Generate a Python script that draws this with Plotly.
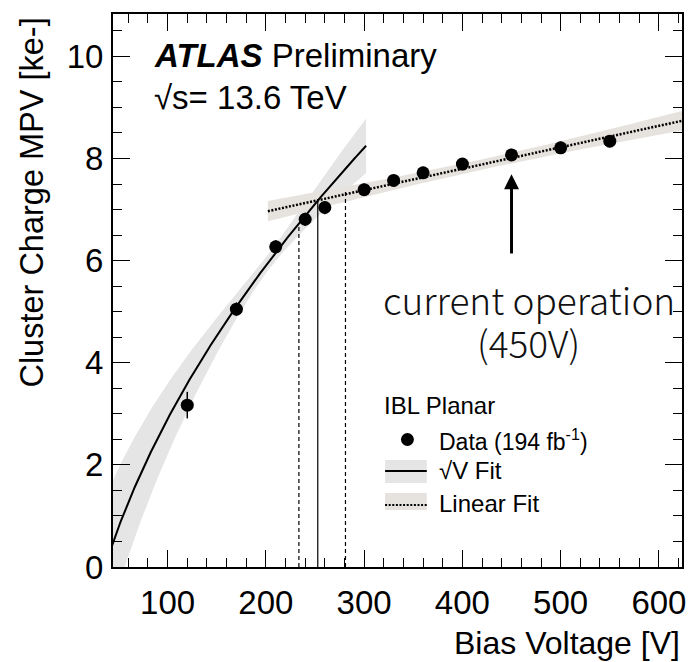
import numpy as np
import plotly.graph_objects as go

# Measured cluster-charge MPV vs bias voltage (IBL planar sensors)
bias_voltage = [120, 170, 210, 240, 260, 300, 330, 360, 400, 450, 500, 550]
charge_mpv = [3.17, 5.05, 6.27, 6.81, 7.04, 7.39, 7.57, 7.72, 7.89, 8.07, 8.21, 8.34]
charge_err = [0.26, 0.13, 0.13, 0.13, 0.13, 0.12, 0.12, 0.12, 0.12, 0.12, 0.12, 0.12]

# sqrt(V) fit: q = a*sqrt(V) + b, band from parameter uncertainties
sqrt_a, sqrt_b = 0.725, -4.35
sqrt_sig_a2, sqrt_u0, sqrt_sig0 = 0.026, 14.2, 0.15
sqrt_range = (40, 302)

# linear fit: q = c + m*V
lin_c, lin_m = 6.12, 0.0042
lin_sig_m, lin_v0, lin_sig0 = 0.00079, 420, 0.10
lin_range = (202, 640)

# depletion voltage estimate (central, lower, upper)
v_dep, v_dep_lo, v_dep_hi = 252.8, 233.6, 281.0

# operating point arrow (voltage, tail, tip)
op_voltage, op_tail, op_tip = 450, 6.14, 7.69

x_range = [44.4, 623.5]
y_range = [0, 10.83]
x_ticks = [100, 200, 300, 400, 500, 600]
y_ticks = [0, 2, 4, 6, 8, 10]

SQRT_BAND = "rgb(229,229,229)"
LIN_BAND = "rgb(230,226,222)"
FONT = "Liberation Sans, Arial, sans-serif"
NOTE_FONT = "Noto Sans CJK JP"

# plot area in pixels
W, H = 696, 662
L, R, T, B = 113, 686, 14, 567


def px(xp):
    return (xp - L) / (R - L)


def py(yp):
    return (B - yp) / (B - T)


def sqrt_fit(v):
    return sqrt_a * np.sqrt(v) + sqrt_b


def sqrt_err(v):
    return np.sqrt(sqrt_sig_a2 * (np.sqrt(v) - sqrt_u0) ** 2 + sqrt_sig0 ** 2)


def lin_fit(v):
    return lin_c + lin_m * v


def lin_err(v):
    return np.sqrt((lin_sig_m * (v - lin_v0)) ** 2 + lin_sig0 ** 2)


fig = go.Figure()

vs = np.linspace(*sqrt_range, 300)
vl = np.linspace(*lin_range, 300)

# bands
for v, f, e, col in [(vs, sqrt_fit, sqrt_err, SQRT_BAND), (vl, lin_fit, lin_err, LIN_BAND)]:
    fig.add_trace(go.Scatter(
        x=np.concatenate([v, v[::-1]]),
        y=np.concatenate([f(v) + e(v), (f(v) - e(v))[::-1]]),
        fill="toself", fillcolor=col, line=dict(width=0), mode="lines",
        hoverinfo="skip", showlegend=False))

# fit lines
fig.add_trace(go.Scatter(x=vs, y=sqrt_fit(vs), mode="lines",
                         line=dict(color="black", width=2), showlegend=False))
fig.add_trace(go.Scatter(x=vl, y=lin_fit(vl), mode="lines",
                         line=dict(color="black", width=2.5, dash="2px,1.6px"), showlegend=False))

# depletion voltage markers
fig.add_trace(go.Scatter(x=[v_dep, v_dep], y=[0, sqrt_fit(v_dep)], mode="lines",
                         line=dict(color="black", width=1.2), showlegend=False))
fig.add_trace(go.Scatter(x=[v_dep_lo, v_dep_lo], y=[0, sqrt_fit(v_dep_lo)], mode="lines",
                         line=dict(color="black", width=1.2, dash="4px,3px"), showlegend=False))
fig.add_trace(go.Scatter(x=[v_dep_hi, v_dep_hi], y=[0, lin_fit(v_dep_hi) + 0.1], mode="lines",
                         line=dict(color="black", width=1.2, dash="4px,3px"), showlegend=False))

# data points
fig.add_trace(go.Scatter(
    x=bias_voltage, y=charge_mpv, mode="markers",
    marker=dict(color="black", size=13),
    error_y=dict(type="data", array=charge_err, color="black", thickness=1.5, width=0),
    showlegend=False))

annotations = [
    dict(x=px(152), y=py(56), xref="paper", yref="paper", xanchor="left", yanchor="middle",
         text="<b><i>ATLAS</i></b> Preliminary", showarrow=False,
         font=dict(family=FONT, size=33, color="black")),
    dict(x=px(152), y=py(97), xref="paper", yref="paper", xanchor="left", yanchor="middle",
         text="√s= 13.6 TeV", showarrow=False,
         font=dict(family=FONT, size=33, color="black")),
    # axis titles
    dict(x=1, y=py(643), xref="paper", yref="paper", xanchor="right", yanchor="middle",
         text="Bias Voltage [V]", showarrow=False,
         font=dict(family=FONT, size=32, color="black")),
    dict(x=px(31), y=py(16), xref="paper", yref="paper", xanchor="center", yanchor="top",
         text="Cluster Charge MPV [ke-]", textangle=-90, showarrow=False,
         font=dict(family=FONT, size=32.5, color="black")),
    # operating point label
    dict(x=px(532), y=py(299), xref="paper", yref="paper", xanchor="center", yanchor="middle",
         text="current operation", showarrow=False,
         font=dict(family=NOTE_FONT, size=37, color="#111", weight=300)),
    dict(x=px(531), y=py(342), xref="paper", yref="paper", xanchor="center", yanchor="middle",
         text="(450V)", showarrow=False,
         font=dict(family=NOTE_FONT, size=37, color="#111", weight=300)),
    # legend
    dict(x=px(384), y=py(405), xref="paper", yref="paper", xanchor="left", yanchor="middle",
         text="IBL Planar", showarrow=False, font=dict(family=FONT, size=24, color="black")),
    dict(x=px(439), y=py(440), xref="paper", yref="paper", xanchor="left", yanchor="middle",
         text="Data (194 fb<sup>-1</sup>)", showarrow=False, font=dict(family=FONT, size=23, color="black")),
    dict(x=px(439), y=py(470), xref="paper", yref="paper", xanchor="left", yanchor="middle",
         text="√V Fit", showarrow=False, font=dict(family=FONT, size=24, color="black")),
    dict(x=px(439), y=py(503), xref="paper", yref="paper", xanchor="left", yanchor="middle",
         text="Linear Fit", showarrow=False, font=dict(family=FONT, size=24, color="black")),
]

# arrow head size in axis units (about 15 px wide and long)
head_half_w = 7.6
head_len = 0.29

shapes = [
    # operating point arrow
    dict(type="line", xref="x", yref="y", x0=op_voltage, x1=op_voltage,
         y0=op_tail, y1=op_tip - head_len + 0.02, line=dict(color="black", width=3)),
    dict(type="path", xref="x", yref="y",
         path=f"M {op_voltage - head_half_w},{op_tip - head_len} "
              f"L {op_voltage + head_half_w},{op_tip - head_len} L {op_voltage},{op_tip} Z",
         fillcolor="black", line=dict(width=0)),
    # legend samples
    dict(type="rect", xref="paper", yref="paper", x0=px(387), x1=px(429), y0=py(483), y1=py(460),
         fillcolor=SQRT_BAND, line=dict(width=0), layer="above"),
    dict(type="line", xref="paper", yref="paper", x0=px(387), x1=px(429), y0=py(471), y1=py(471),
         line=dict(color="black", width=2), layer="above"),
    dict(type="rect", xref="paper", yref="paper", x0=px(387), x1=px(429), y0=py(510), y1=py(493),
         fillcolor=LIN_BAND, line=dict(width=0), layer="above"),
    dict(type="line", xref="paper", yref="paper", x0=px(387), x1=px(429), y0=py(505), y1=py(505),
         line=dict(color="black", width=2, dash="2px,1.6px"), layer="above"),
    dict(type="circle", xref="paper", yref="paper", x0=px(403), x1=px(416), y0=py(446), y1=py(433),
         fillcolor="black", line=dict(width=0), layer="above"),
]

axis_common = dict(
    showgrid=False, zeroline=False, showline=True, linecolor="black", linewidth=2,
    mirror="ticks", ticks="inside", ticklen=17, tickwidth=1.3, tickcolor="black",
    tickfont=dict(family=FONT, size=33, color="black"),
)

fig.update_layout(
    width=W, height=H,
    margin=dict(l=L, r=W - R, t=T, b=H - B),
    plot_bgcolor="white", paper_bgcolor="white",
    showlegend=False,
    xaxis=dict(range=x_range, tickvals=x_ticks,
               minor=dict(dtick=20, tick0=0, ticks="inside", ticklen=9, tickwidth=1.3, tickcolor="black"),
               ticklabelstandoff=5, **axis_common),
    yaxis=dict(range=y_range, tickvals=y_ticks,
               minor=dict(dtick=0.5, tick0=0, ticks="inside", ticklen=9, tickwidth=1.3, tickcolor="black"),
               ticklabelstandoff=1, **axis_common),
    annotations=annotations,
    shapes=shapes,
)

fig.write_html("out.html")
